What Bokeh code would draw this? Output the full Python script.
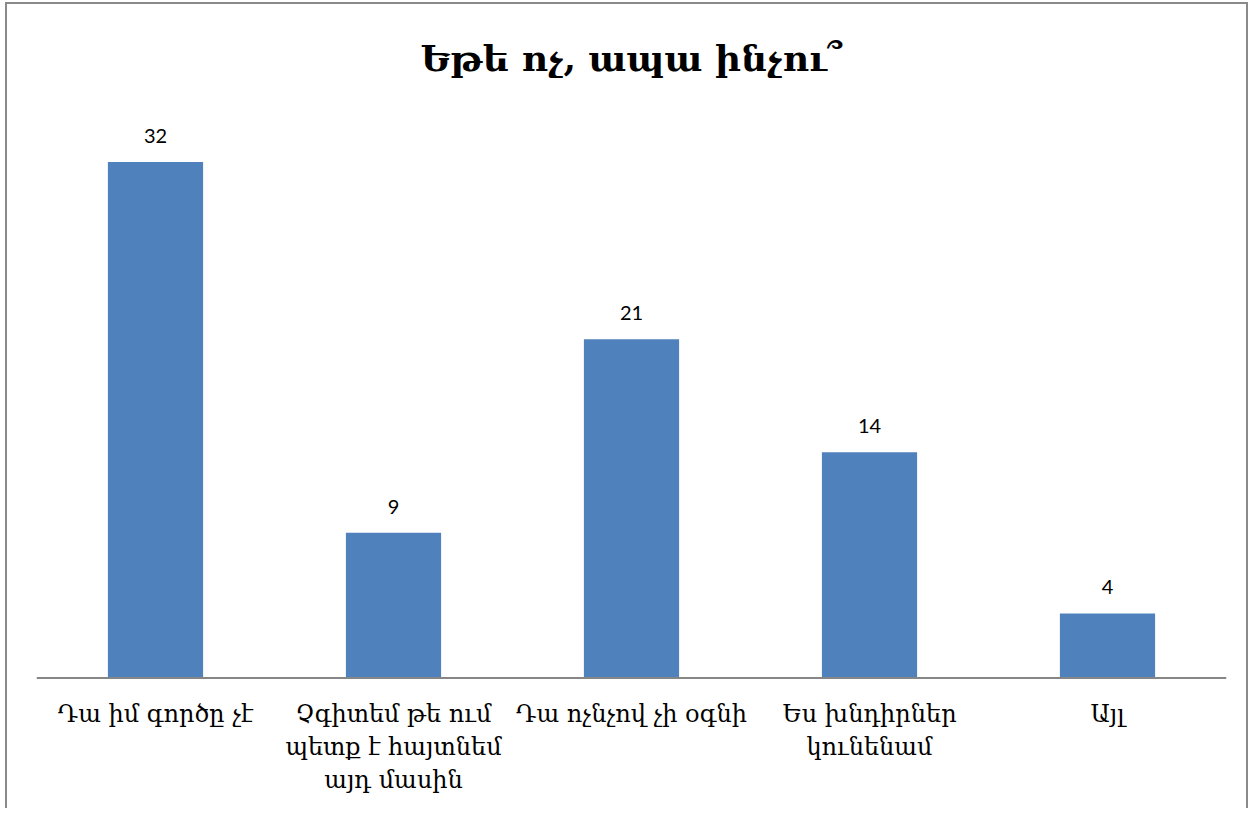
from bokeh.plotting import figure
from bokeh.models import FactorRange, Range1d, ColumnDataSource, LabelSet, Span
from bokeh.core.properties import value
from bokeh.embed import file_html
from bokeh.resources import INLINE

title_text = "Եթե ոչ, ապա ինչու՞"
categories = [
    "Դա իմ գործը չէ",
    "Չգիտեմ թե ում\nպետք է հայտնեմ\nայդ մասին",
    "Դա ոչնչով չի օգնի",
    "Ես խնդիրներ\nկունենամ",
    "Այլ",
]
values = [32, 9, 21, 14, 4]
labels = [str(v) for v in values]

src = ColumnDataSource(dict(cat=categories, val=values, lab=labels))

# one row per text line of each category label, so that each line is centred
line_cat, line_txt, line_off = [], [], []
for c in categories:
    for i, t in enumerate(c.split("\n")):
        line_cat.append(c)
        line_txt.append(t)
        line_off.append(-22 - 33 * i)
cat_src = ColumnDataSource(dict(cat=line_cat, txt=line_txt, off=line_off,
                                zero=[0] * len(line_cat)))

p = figure(
    width=1243, height=806,
    x_range=FactorRange(factors=categories),
    y_range=Range1d(-7.6, 35),
    output_backend="svg", toolbar_location=None,
    min_border_left=29, min_border_right=24, min_border_bottom=10, min_border_top=109,
)
p.styles = {"margin-left": "5px", "margin-top": "2px",
            "border-left": "2px solid #8a8a8a", "border-top": "2px solid #8a8a8a",
            "border-right": "2px solid #8a8a8a"}

p.title.text = title_text
p.title.align = "center"
p.title.vertical_align = "top"
p.title.text_font = "DejaVu Serif"
p.title.text_font_size = "36px"
p.title.text_font_style = "bold"
p.title.text_color = "#000000"
p.title.standoff = 65

p.vbar(x="cat", top="val", bottom=0, width=0.4, source=src, color="#4F81BD", line_color=None)

p.add_layout(LabelSet(x="cat", y="val", text="lab", source=src, text_align="center",
                      text_baseline="alphabetic", y_offset=19, text_font=value("Lato"),
                      text_font_size="20px", text_color="#000000"))

p.add_layout(LabelSet(x="cat", y="zero", text="txt", source=cat_src, text_align="center",
                      text_baseline="top", y_offset="off", text_font=value("DejaVu Serif"),
                      text_font_size="24px", text_color="#000000"))

p.add_layout(Span(location=0, dimension="width", line_color="#868686", line_width=2))

p.xaxis.visible = False
p.yaxis.visible = False
p.xgrid.grid_line_color = None
p.ygrid.grid_line_color = None
p.outline_line_color = None
p.x_range.range_padding = 0

open("out.html", "w").write(file_html(p, INLINE))
